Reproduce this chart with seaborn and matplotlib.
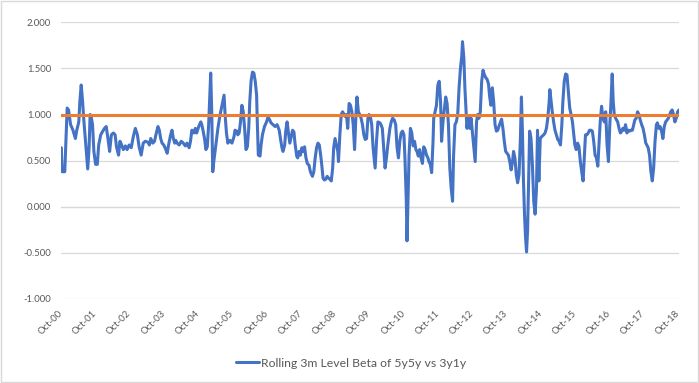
import matplotlib
matplotlib.use("Agg")
import numpy as np
import pandas as pd
import seaborn as sns
import matplotlib.pyplot as plt
from matplotlib.patches import Rectangle
from matplotlib.ticker import FuncFormatter

# ---- data (decimal years, beta values) ----
dates = [
    2000.76, 2000.78, 2000.86, 2000.93, 2000.97, 2001.03, 2001.10, 2001.17, 2001.21, 2001.27,
    2001.30, 2001.34, 2001.38, 2001.42, 2001.48, 2001.53, 2001.57, 2001.60, 2001.63, 2001.67,
    2001.71, 2001.76, 2001.81, 2001.85, 2001.91, 2001.97, 2002.02, 2002.07, 2002.12, 2002.17,
    2002.22, 2002.28, 2002.33, 2002.37, 2002.43, 2002.47, 2002.51, 2002.57, 2002.63, 2002.68,
    2002.74, 2002.80, 2002.86, 2002.92, 2002.98, 2003.03, 2003.09, 2003.15, 2003.21, 2003.29,
    2003.33, 2003.37, 2003.43, 2003.48, 2003.52, 2003.58, 2003.62, 2003.66, 2003.70, 2003.75,
    2003.81, 2003.85, 2003.89, 2003.95, 2003.99, 2004.03, 2004.07, 2004.10, 2004.14, 2004.20,
    2004.26, 2004.32, 2004.38, 2004.43, 2004.49, 2004.53, 2004.57, 2004.63, 2004.67, 2004.71,
    2004.77, 2004.83, 2004.86, 2004.90, 2004.94, 2004.98, 2005.02, 2005.06, 2005.09, 2005.12,
    2005.15, 2005.18, 2005.21, 2005.27, 2005.33, 2005.39, 2005.45, 2005.51, 2005.54, 2005.58,
    2005.62, 2005.68, 2005.74, 2005.80, 2005.83, 2005.88, 2005.91, 2005.95, 2005.99, 2006.03,
    2006.07, 2006.11, 2006.15, 2006.19, 2006.23, 2006.26, 2006.30, 2006.34, 2006.38, 2006.42,
    2006.46, 2006.48, 2006.51, 2006.56, 2006.59, 2006.63, 2006.69, 2006.75, 2006.79, 2006.83,
    2006.88, 2006.94, 2007.00, 2007.06, 2007.12, 2007.16, 2007.20, 2007.23, 2007.28, 2007.31,
    2007.35, 2007.39, 2007.43, 2007.47, 2007.51, 2007.55, 2007.58, 2007.63, 2007.66, 2007.70,
    2007.74, 2007.78, 2007.82, 2007.86, 2007.90, 2007.94, 2007.99, 2008.03, 2008.09, 2008.13,
    2008.17, 2008.21, 2008.25, 2008.29, 2008.33, 2008.36, 2008.40, 2008.44, 2008.48, 2008.52,
    2008.56, 2008.60, 2008.64, 2008.68, 2008.71, 2008.75, 2008.79, 2008.83, 2008.85, 2008.89,
    2008.93, 2008.97, 2009.01, 2009.04, 2009.08, 2009.12, 2009.16, 2009.20, 2009.24, 2009.28,
    2009.32, 2009.36, 2009.39, 2009.43, 2009.47, 2009.51, 2009.55, 2009.59, 2009.63, 2009.67,
    2009.71, 2009.74, 2009.78, 2009.82, 2009.86, 2009.92, 2009.96, 2010.00, 2010.06, 2010.09,
    2010.13, 2010.17, 2010.21, 2010.25, 2010.29, 2010.35, 2010.39, 2010.43, 2010.48, 2010.52,
    2010.56, 2010.60, 2010.64, 2010.68, 2010.72, 2010.76, 2010.79, 2010.83, 2010.85, 2010.87,
    2010.91, 2010.95, 2010.99, 2011.03, 2011.07, 2011.11, 2011.14, 2011.18, 2011.22, 2011.26,
    2011.30, 2011.34, 2011.38, 2011.42, 2011.46, 2011.49, 2011.53, 2011.57, 2011.61, 2011.63,
    2011.67, 2011.71, 2011.75, 2011.79, 2011.83, 2011.86, 2011.90, 2011.94, 2011.98, 2012.02,
    2012.06, 2012.10, 2012.14, 2012.18, 2012.21, 2012.25, 2012.29, 2012.33, 2012.37, 2012.41,
    2012.45, 2012.47, 2012.51, 2012.54, 2012.58, 2012.60, 2012.64, 2012.68, 2012.72, 2012.76,
    2012.80, 2012.84, 2012.88, 2012.91, 2012.95, 2012.99, 2013.03, 2013.07, 2013.11, 2013.15,
    2013.19, 2013.23, 2013.26, 2013.30, 2013.34, 2013.38, 2013.42, 2013.46, 2013.50, 2013.54,
    2013.58, 2013.61, 2013.65, 2013.69, 2013.73, 2013.77, 2013.81, 2013.85, 2013.89, 2013.93,
    2013.96, 2014.00, 2014.04, 2014.08, 2014.12, 2014.16, 2014.19, 2014.22, 2014.25, 2014.28,
    2014.31, 2014.34, 2014.37, 2014.40, 2014.43, 2014.47, 2014.51, 2014.55, 2014.59, 2014.63,
    2014.66, 2014.70, 2014.74, 2014.78, 2014.84, 2014.88, 2014.92, 2014.96, 2015.00, 2015.02,
    2015.05, 2015.09, 2015.13, 2015.17, 2015.21, 2015.25, 2015.29, 2015.33, 2015.37, 2015.40,
    2015.44, 2015.48, 2015.52, 2015.56, 2015.60, 2015.64, 2015.68, 2015.71, 2015.75, 2015.79,
    2015.83, 2015.87, 2015.91, 2015.95, 2015.99, 2016.03, 2016.06, 2016.10, 2016.14, 2016.18,
    2016.22, 2016.26, 2016.30, 2016.34, 2016.38, 2016.42, 2016.45, 2016.49, 2016.53, 2016.57,
    2016.61, 2016.65, 2016.69, 2016.73, 2016.77, 2016.80, 2016.84, 2016.87, 2016.90, 2016.94,
    2017.00, 2017.04, 2017.08, 2017.12, 2017.15, 2017.19, 2017.23, 2017.27, 2017.31, 2017.35,
    2017.39, 2017.43, 2017.47, 2017.50, 2017.54, 2017.58, 2017.62, 2017.66, 2017.70, 2017.74,
    2017.78, 2017.82, 2017.85, 2017.89, 2017.93, 2017.97, 2018.01, 2018.05, 2018.09, 2018.13,
    2018.16, 2018.20, 2018.24, 2018.28, 2018.32, 2018.36, 2018.40, 2018.44, 2018.48, 2018.52,
    2018.55, 2018.59, 2018.63, 2018.67, 2018.71, 2018.75, 2018.79,
]
beta = [
    0.64, 0.38, 0.38, 1.07, 1.05, 0.89, 0.83, 0.74, 0.83, 0.92,
    1.14, 1.32, 1.14, 0.92, 0.64, 0.41, 0.64, 1.00, 0.98, 0.89,
    0.60, 0.46, 0.46, 0.67, 0.78, 0.82, 0.85, 0.87, 0.74, 0.60,
    0.78, 0.80, 0.78, 0.65, 0.56, 0.71, 0.68, 0.62, 0.66, 0.62,
    0.67, 0.64, 0.76, 0.85, 0.78, 0.65, 0.56, 0.69, 0.71, 0.70,
    0.67, 0.74, 0.69, 0.71, 0.78, 0.87, 0.83, 0.74, 0.69, 0.67,
    0.62, 0.58, 0.67, 0.78, 0.83, 0.74, 0.69, 0.72, 0.69, 0.67,
    0.71, 0.69, 0.66, 0.69, 0.64, 0.71, 0.83, 0.80, 0.85, 0.80,
    0.87, 0.92, 0.89, 0.82, 0.74, 0.62, 0.65, 0.89, 1.18, 1.45,
    1.03, 0.38, 0.49, 0.67, 0.85, 0.99, 1.10, 1.21, 1.00, 0.80,
    0.69, 0.72, 0.69, 0.76, 0.83, 0.82, 0.78, 0.80, 0.92, 1.10,
    1.03, 0.85, 0.62, 0.65, 0.85, 1.14, 1.37, 1.46, 1.45, 1.36,
    1.21, 0.92, 0.56, 0.55, 0.67, 0.78, 0.87, 0.92, 0.97, 0.95,
    0.91, 0.89, 0.87, 0.89, 0.83, 0.73, 0.64, 0.60, 0.67, 0.82,
    0.92, 0.80, 0.69, 0.76, 0.83, 0.81, 0.69, 0.55, 0.53, 0.60,
    0.56, 0.64, 0.60, 0.65, 0.53, 0.47, 0.45, 0.38, 0.33, 0.38,
    0.53, 0.64, 0.69, 0.67, 0.56, 0.46, 0.31, 0.29, 0.30, 0.33,
    0.31, 0.30, 0.28, 0.42, 0.64, 0.74, 0.67, 0.60, 0.49, 0.78,
    1.00, 1.03, 1.00, 0.98, 1.00, 0.85, 1.12, 1.10, 1.03, 0.89,
    0.62, 1.00, 1.19, 1.03, 1.00, 0.96, 0.89, 0.78, 0.73, 0.74,
    0.96, 1.00, 0.98, 0.89, 0.64, 0.42, 0.71, 0.92, 0.91, 0.89,
    0.85, 0.64, 0.42, 0.53, 0.67, 0.85, 0.92, 0.96, 0.94, 0.89,
    0.64, 0.53, 0.71, 0.80, 0.82, 0.78, 0.53, 0.06, -0.37, -0.08,
    0.56, 0.85, 0.80, 0.66, 0.71, 0.62, 0.60, 0.55, 0.62, 0.53,
    0.47, 0.65, 0.62, 0.56, 0.53, 0.49, 0.46, 0.37, 0.71, 0.96,
    1.03, 1.10, 1.32, 1.36, 1.14, 0.71, 0.92, 1.06, 1.19, 1.12,
    0.89, 0.42, 0.20, 0.06, 0.56, 0.89, 0.92, 1.00, 1.29, 1.50,
    1.64, 1.79, 1.61, 1.29, 1.00, 0.85, 0.98, 0.85, 0.96, 0.80,
    0.64, 0.49, 0.92, 1.00, 0.96, 1.03, 1.36, 1.48, 1.43, 1.40,
    1.38, 1.33, 1.20, 1.10, 1.29, 1.14, 0.89, 0.82, 0.83, 0.88,
    0.92, 0.95, 0.85, 0.71, 0.60, 0.58, 0.56, 0.49, 0.40, 0.49,
    0.60, 0.53, 0.35, 0.26, 0.35, 0.74, 1.19, 0.81, 0.28, -0.08,
    -0.33, -0.49, -0.26, 0.28, 0.82, 0.74, 0.46, 0.06, -0.08, 0.20,
    0.83, 0.28, 0.74, 0.76, 0.78, 0.80, 0.85, 0.96, 1.14, 1.27,
    1.17, 1.03, 0.92, 0.83, 0.78, 0.73, 0.71, 0.67, 0.89, 1.14,
    1.36, 1.44, 1.43, 1.25, 1.07, 1.00, 0.92, 0.81, 0.67, 0.62,
    0.69, 0.65, 0.49, 0.38, 0.28, 0.56, 0.78, 0.78, 0.80, 0.83,
    0.83, 0.82, 0.71, 0.56, 0.53, 0.44, 0.64, 0.92, 1.09, 0.96,
    0.92, 1.03, 0.67, 0.49, 0.89, 1.10, 1.44, 1.14, 1.00, 0.96,
    0.92, 0.85, 0.80, 0.82, 0.85, 0.83, 0.89, 0.80, 0.83, 0.82,
    0.83, 0.83, 0.89, 0.94, 0.96, 1.03, 1.00, 0.94, 0.89, 0.85,
    0.78, 0.69, 0.67, 0.64, 0.56, 0.38, 0.28, 0.42, 0.71, 0.89,
    0.91, 0.85, 0.87, 0.82, 0.74, 0.87, 0.92, 0.94, 0.96, 1.00,
    1.03, 1.05, 1.00, 0.92, 0.96, 1.03, 1.05,
]
series_name = "Rolling 3m Level Beta of 5y5y vs 3y1y"
reference_level = 1.0
tick_years = [2000.75, 2001.75, 2002.75, 2003.75, 2004.75, 2005.75, 2006.75, 2007.75, 2008.75,
              2009.75, 2010.75, 2011.75, 2012.75, 2013.75, 2014.75, 2015.75, 2016.75, 2017.75, 2018.75]
tick_labels = ["Oct-00", "Oct-01", "Oct-02", "Oct-03", "Oct-04", "Oct-05", "Oct-06", "Oct-07",
               "Oct-08", "Oct-09", "Oct-10", "Oct-11", "Oct-12", "Oct-13", "Oct-14", "Oct-15",
               "Oct-16", "Oct-17", "Oct-18"]
y_ticks = [-1.0, -0.5, 0.0, 0.5, 1.0, 1.5, 2.0]

sns.set_theme(style="white")
plt.rcParams["font.family"] = ["Lato", "DejaVu Sans"]

BLUE = "#4472C4"
ORANGE = "#ED7D31"
GRID = "#D9D9D9"
TXT = "#595959"

fig = plt.figure(figsize=(6.99, 3.83), dpi=100)
ax = fig.add_axes([61 / 699, 1 - 299 / 383, 618 / 699, (299 - 22.3) / 383])

df = pd.DataFrame({"date": dates, "beta": beta})
sns.lineplot(data=df, x="date", y="beta", ax=ax, color=BLUE, linewidth=2.2,
             label=series_name, zorder=3)
ax.axhline(reference_level, color=ORANGE, linewidth=2.2, zorder=4)

ax.set_xlim(2000.75, 2018.79)
ax.set_ylim(-1.0, 2.0)
ax.set_yticks(y_ticks)
ax.yaxis.set_major_formatter(FuncFormatter(lambda v, p: f"{v:.3f}"))
ax.grid(axis="y", color=GRID, linewidth=0.9, zorder=0)
ax.grid(axis="x", visible=False)
ax.set_xlabel("")
ax.set_ylabel("")

for s in ["top", "right", "left"]:
    ax.spines[s].set_visible(False)
ax.spines["bottom"].set_position(("data", 0))
ax.spines["bottom"].set_color(GRID)
ax.spines["bottom"].set_linewidth(0.9)
ax.set_xticks(tick_years)
ax.tick_params(axis="x", direction="out", length=4, width=0.9, color=GRID, labelbottom=False)
ax.tick_params(axis="y", length=0, labelcolor=TXT, labelsize=6.8, pad=7)

sec = ax.secondary_xaxis("bottom")
sec.set_xticks(tick_years)
sec.set_xticklabels(tick_labels)
sec.tick_params(axis="x", length=0, labelcolor=TXT, labelsize=6.8, pad=9)
sec.spines["bottom"].set_visible(False)
plt.setp(sec.get_xticklabels(), rotation=45, ha="right", va="center", rotation_mode="anchor")

ax.get_legend().remove()
handles, labels = ax.get_legend_handles_labels()
leg = fig.legend(handles[:1], labels[:1], loc="center", bbox_to_anchor=(0.502, 0.052),
                 frameon=False, fontsize=8.8, handlelength=1.9, handletextpad=0.15,
                 labelcolor=TXT)

fig.patches.append(Rectangle((0.001, 0.002), 0.997, 0.995, transform=fig.transFigure,
                             fill=False, edgecolor=GRID, linewidth=1.0))

fig.savefig("out.png", dpi=100)
